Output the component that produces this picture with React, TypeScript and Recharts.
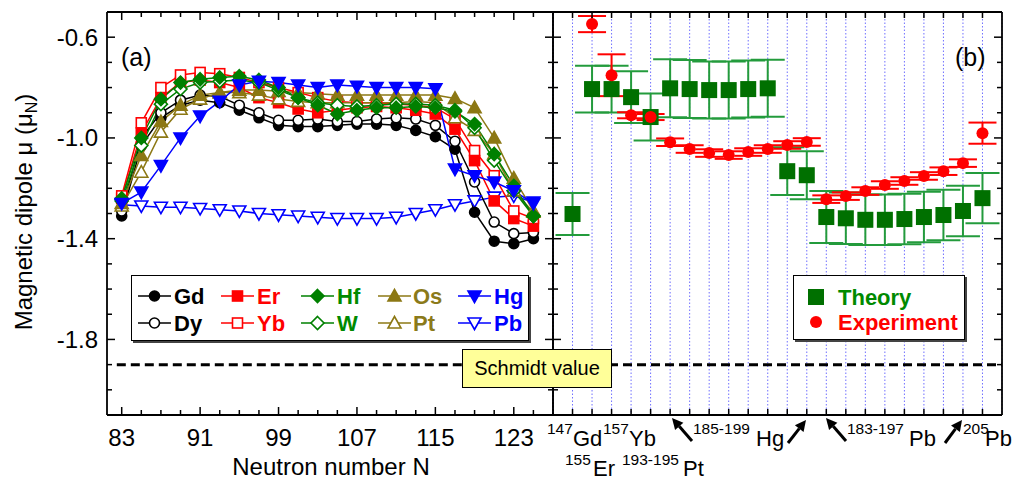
import React from "react";
import {
  LineChart,
  Line,
  XAxis,
  YAxis,
  ReferenceLine,
  ComposedChart,
  Scatter,
  ErrorBar,
  CartesianGrid,
} from "recharts";

const FONT = "'Liberation Sans', Arial, Helvetica, sans-serif";

// ---- panel (a): magnetic moments vs neutron number ----
const neutrons = [83, 85, 87, 89, 91, 93, 95, 97, 99, 101, 103, 105, 107, 109, 111, 113, 115, 117, 119, 121, 123, 125];

const gd = [-1.31, -1.03, -0.92, -0.87, -0.85, -0.86, -0.89, -0.92, -0.95, -0.955, -0.955, -0.95, -0.945, -0.945, -0.95, -0.97, -0.995, -1.045, -1.295, -1.41, -1.42, -1.4];
const dy = [-1.29, -1.0, -0.9, -0.85, -0.83, -0.835, -0.87, -0.9, -0.93, -0.93, -0.925, -0.935, -0.935, -0.925, -0.92, -0.925, -0.95, -1.013, -1.175, -1.334, -1.38, -1.375];
const er = [-1.24, -0.98, -0.84, -0.78, -0.77, -0.78, -0.8, -0.84, -0.86, -0.885, -0.9, -0.89, -0.88, -0.875, -0.88, -0.89, -0.905, -0.965, -1.09, -1.25, -1.32, -1.35];
const yb = [-1.23, -0.94, -0.8, -0.75, -0.74, -0.745, -0.76, -0.78, -0.8, -0.82, -0.84, -0.855, -0.86, -0.86, -0.865, -0.87, -0.88, -0.925, -1.05, -1.15, -1.29, -1.32];
const hf = [-1.24, -1.0, -0.846, -0.78, -0.767, -0.76, -0.755, -0.77, -0.8, -0.84, -0.87, -0.905, -0.89, -0.88, -0.88, -0.875, -0.88, -0.895, -0.945, -1.064, -1.19, -1.31];
const w = [-1.25, -1.03, -0.866, -0.806, -0.78, -0.775, -0.77, -0.78, -0.81, -0.84, -0.86, -0.87, -0.875, -0.87, -0.865, -0.865, -0.87, -0.89, -0.96, -1.09, -1.21, -1.31];
const os = [-1.26, -1.07, -0.935, -0.87, -0.83, -0.82, -0.81, -0.81, -0.815, -0.82, -0.825, -0.83, -0.83, -0.83, -0.83, -0.83, -0.83, -0.843, -0.88, -1.0, -1.16, -1.29];
const pt = [-1.27, -1.136, -0.977, -0.886, -0.846, -0.82, -0.82, -0.83, -0.845, -0.855, -0.86, -0.86, -0.86, -0.86, -0.86, -0.855, -0.86, -0.92, -0.97, -1.064, -1.21, -1.295];
const hg = [-1.26, -1.215, -1.11, -1.0, -0.913, -0.855, -0.79, -0.775, -0.78, -0.79, -0.8, -0.79, -0.795, -0.8, -0.8, -0.8, -0.805, -1.124, -1.15, -1.175, -1.21, -1.26];
const pb = [-1.265, -1.27, -1.275, -1.275, -1.28, -1.285, -1.29, -1.3, -1.305, -1.31, -1.315, -1.32, -1.32, -1.32, -1.315, -1.3, -1.285, -1.265, -1.25, -1.235, -1.23, -1.255];

const schmidt = -1.9;

const xTicksA = [83, 85, 87, 89, 91, 93, 95, 97, 99, 101, 103, 105, 107, 109, 111, 113, 115, 117, 119, 121, 123, 125];
const xLabelsA = [83, 91, 99, 107, 115, 123];
const yTicks = [-2.0, -1.9, -1.8, -1.7, -1.6, -1.5, -1.4, -1.3, -1.2, -1.1, -1.0, -0.9, -0.8, -0.7, -0.6];
const yLabels = [-1.8, -1.4, -1.0, -0.6];

// ---- panel (b): theory vs experiment per nucleus ----
const sites = [1, 2, 3, 4, 5, 6, 7, 8, 9, 10, 11, 12, 13, 14, 15, 16, 17, 18, 19, 20, 21, 22];
const theoryVal = [-1.302, -0.806, -0.806, -0.838, -0.917, -0.803, -0.806, -0.81, -0.81, -0.806, -0.803, -1.132, -1.148, -1.314, -1.319, -1.325, -1.325, -1.322, -1.314, -1.306, -1.29, -1.239];
const theoryErr = [0.083, 0.093, 0.093, 0.103, 0.093, 0.115, 0.115, 0.113, 0.113, 0.113, 0.113, 0.095, 0.095, 0.103, 0.102, 0.1, 0.1, 0.1, 0.1, 0.1, 0.1, 0.1];
const expSites = [2, 3, 4, 5, 6, 7, 8, 9, 10, 11, 12, 13, 14, 15, 16, 17, 18, 19, 20, 21, 22];
const expVal = [-0.548, -0.751, -0.91, -0.917, -1.017, -1.044, -1.06, -1.068, -1.056, -1.044, -1.028, -1.016, -1.243, -1.231, -1.211, -1.187, -1.171, -1.151, -1.132, -1.1, -0.981];
const expErr = [0.032, 0.083, 0.012, 0.012, 0.015, 0.015, 0.015, 0.015, 0.015, 0.015, 0.015, 0.015, 0.015, 0.015, 0.015, 0.015, 0.015, 0.015, 0.015, 0.015, 0.042];

const RED = "#ff0000";
const GREEN = "#008000";
const OLIVE = "#8c7814";
const BLUE = "#0000ff";

type Shape = "circle" | "square" | "diamond" | "up" | "down";

const series: { key: string; color: string; shape: Shape; open: boolean; values: number[] }[] = [
  { key: "Pb", color: BLUE, shape: "down", open: true, values: pb },
  { key: "Gd", color: "#000", shape: "circle", open: false, values: gd },
  { key: "Dy", color: "#000", shape: "circle", open: true, values: dy },
  { key: "Er", color: RED, shape: "square", open: false, values: er },
  { key: "Yb", color: RED, shape: "square", open: true, values: yb },
  { key: "Pt", color: OLIVE, shape: "up", open: true, values: pt },
  { key: "Os", color: OLIVE, shape: "up", open: false, values: os },
  { key: "W", color: GREEN, shape: "diamond", open: true, values: w },
  { key: "Hf", color: GREEN, shape: "diamond", open: false, values: hf },
  { key: "Hg", color: BLUE, shape: "down", open: false, values: hg },
];

const rowsA = neutrons.map((N, k) => {
  const row: Record<string, number> = { N };
  series.forEach((s) => (row[s.key] = s.values[k]));
  return row;
});

const theoryRows = sites.map((i, k) => ({ i, v: theoryVal[k], e: theoryErr[k] }));
const expRows = expSites.map((i, k) => ({ i, v: expVal[k], e: expErr[k] }));

function Marker({ cx, cy, shape, color, open }: { cx: number; cy: number; shape: Shape; color: string; open: boolean }) {
  const fill = open ? "#fff" : color;
  const common = { fill, stroke: color, strokeWidth: 1.6 };
  if (shape === "circle") return <circle cx={cx} cy={cy} r={5} {...common} />;
  if (shape === "square") return <rect x={cx - 5} y={cy - 5} width={10} height={10} {...common} />;
  if (shape === "diamond")
    return <polygon points={`${cx},${cy - 6.5} ${cx + 6.5},${cy} ${cx},${cy + 6.5} ${cx - 6.5},${cy}`} {...common} />;
  if (shape === "up")
    return <polygon points={`${cx},${cy - 6.5} ${cx + 6.5},${cy + 5} ${cx - 6.5},${cy + 5}`} {...common} />;
  return <polygon points={`${cx - 6.5},${cy - 5} ${cx + 6.5},${cy - 5} ${cx},${cy + 6.5}`} {...common} />;
}

const isYMajor = (v: number) => yLabels.some((t) => Math.abs(t - v) < 1e-6);

function LeftYTick({ x, y, payload }: any) {
  const major = isYMajor(payload.value);
  return (
    <g>
      <line x1={x} x2={x + (major ? 8 : 5)} y1={y} y2={y} stroke="#000" strokeWidth={1.5} />
      {major && (
        <text x={x - 9} y={y} dy="0.35em" textAnchor="end" fontSize={24} fontFamily={FONT} fill="#000">
          {payload.value.toFixed(1)}
        </text>
      )}
    </g>
  );
}

// ticks pointing left from a right-hand frame line
function RightYTick({ x, y, payload }: any) {
  const major = isYMajor(payload.value);
  return <line x1={x} x2={x - (major ? 8 : 5)} y1={y} y2={y} stroke="#000" strokeWidth={1.5} />;
}

function InnerLeftYTick({ x, y, payload }: any) {
  const major = isYMajor(payload.value);
  return <line x1={x} x2={x + (major ? 8 : 5)} y1={y} y2={y} stroke="#000" strokeWidth={1.5} />;
}

function BottomTickA({ x, y, payload }: any) {
  const major = xLabelsA.includes(payload.value);
  return (
    <g>
      <line x1={x} x2={x} y1={y} y2={y - (major ? 8 : 5)} stroke="#000" strokeWidth={1.5} />
      {major && (
        <text x={x} y={y + 31} textAnchor="middle" fontSize={24} fontFamily={FONT} fill="#000">
          {payload.value}
        </text>
      )}
    </g>
  );
}

function TopTickA({ x, y, payload }: any) {
  const major = xLabelsA.includes(payload.value);
  return <line x1={x} x2={x} y1={y} y2={y + (major ? 8 : 5)} stroke="#000" strokeWidth={1.5} />;
}

function BottomTickB({ x, y }: any) {
  return <line x1={x} x2={x} y1={y} y2={y - 6} stroke="#000" strokeWidth={1.5} />;
}

function TopTickB({ x, y }: any) {
  return <line x1={x} x2={x} y1={y} y2={y + 6} stroke="#000" strokeWidth={1.5} />;
}

function Arrow({ x1, y1, x2, y2 }: { x1: number; y1: number; x2: number; y2: number }) {
  const dx = x2 - x1;
  const dyv = y2 - y1;
  const len = Math.hypot(dx, dyv);
  const ux = dx / len;
  const uy = dyv / len;
  const hl = 11;
  const hw = 5.5;
  const bx = x2 - ux * hl;
  const by = y2 - uy * hl;
  return (
    <g>
      <line x1={x1} y1={y1} x2={bx} y2={by} stroke="#000" strokeWidth={3} />
      <polygon
        points={`${x2},${y2} ${bx - uy * hw},${by + ux * hw} ${bx + uy * hw},${by - ux * hw}`}
        fill="#000"
      />
    </g>
  );
}

const axisLine = { stroke: "#000", strokeWidth: 1.8 };

const legendCols = [
  { top: "Gd", bottom: "Dy", color: "#000", text: "#000", shape: "circle" as Shape, lx: 6, tx: 42 },
  { top: "Er", bottom: "Yb", color: RED, text: RED, shape: "square" as Shape, lx: 89, tx: 125 },
  { top: "Hf", bottom: "W", color: GREEN, text: "#008a00", shape: "diamond" as Shape, lx: 169, tx: 205 },
  { top: "Os", bottom: "Pt", color: OLIVE, text: "#8b7a1a", shape: "up" as Shape, lx: 246, tx: 281 },
  { top: "Hg", bottom: "Pb", color: BLUE, text: BLUE, shape: "down" as Shape, lx: 326, tx: 362 },
];

export default function App() {
  const W = 1019;
  const H = 481;
  return (
    <div style={{ position: "absolute", left: 0, top: 0, width: W, height: H, background: "#fff", fontFamily: FONT }}>
      <div style={{ position: "absolute", left: 0, top: 0 }}>
        <LineChart width={W} height={H} data={rowsA} margin={{ top: 11, right: 465, bottom: 0, left: 0 }}>
          <XAxis
            xAxisId="b"
            dataKey="N"
            type="number"
            domain={[81.5, 127]}
            allowDataOverflow
            ticks={xTicksA}
            interval={0}
            height={66}
            tickSize={0}
            tickMargin={0}
            tickLine={false}
            axisLine={axisLine}
            tick={<BottomTickA />}
          />
          <XAxis
            xAxisId="t"
            orientation="top"
            dataKey="N"
            type="number"
            domain={[81.5, 127]}
            allowDataOverflow
            ticks={xTicksA}
            interval={0}
            height={1}
            tickSize={0}
            tickMargin={0}
            tickLine={false}
            axisLine={axisLine}
            tick={<TopTickA />}
          />
          <YAxis
            yAxisId="l"
            type="number"
            domain={[-2.1, -0.5]}
            allowDataOverflow
            ticks={yTicks}
            interval={0}
            width={107}
            tickSize={0}
            tickMargin={0}
            tickLine={false}
            axisLine={axisLine}
            tick={<LeftYTick />}
          />
          <YAxis
            yAxisId="r"
            orientation="right"
            type="number"
            domain={[-2.1, -0.5]}
            allowDataOverflow
            ticks={yTicks}
            interval={0}
            width={1}
            tickSize={0}
            tickMargin={0}
            tickLine={false}
            axisLine={axisLine}
            tick={<RightYTick />}
          />
          <ReferenceLine
            xAxisId="b"
            yAxisId="l"
            segment={[
              { x: 82.5, y: schmidt },
              { x: 127, y: schmidt },
            ]}
            stroke="#000"
            strokeWidth={3}
            strokeDasharray="9 5"
          />
          {series.map((s) => (
            <Line
              key={s.key}
              xAxisId="b"
              yAxisId="l"
              dataKey={s.key}
              stroke={s.color}
              strokeWidth={1.5}
              isAnimationActive={false}
              activeDot={false}
              dot={(p: any) => (
                <Marker key={`${s.key}-${p.index}`} cx={p.cx} cy={p.cy} shape={s.shape} color={s.color} open={s.open} />
              )}
            />
          ))}
        </LineChart>
      </div>

      <div style={{ position: "absolute", left: 0, top: 0 }}>
        <ComposedChart width={W} height={H} margin={{ top: 11, right: 16, bottom: 0, left: 552 }}>
          <CartesianGrid xAxisId="b" yAxisId="l" horizontal={false} stroke="#6f6fff" strokeDasharray="1.5 2" strokeWidth={1} />
          <XAxis
            xAxisId="b"
            dataKey="i"
            type="number"
            domain={[0, 23]}
            allowDataOverflow
            ticks={sites}
            interval={0}
            height={66}
            tickSize={0}
            tickMargin={0}
            tickLine={false}
            axisLine={axisLine}
            tick={<BottomTickB />}
          />
          <XAxis
            xAxisId="t"
            orientation="top"
            dataKey="i"
            type="number"
            domain={[0, 23]}
            allowDataOverflow
            ticks={sites}
            interval={0}
            height={1}
            tickSize={0}
            tickMargin={0}
            tickLine={false}
            axisLine={axisLine}
            tick={<TopTickB />}
          />
          <YAxis
            yAxisId="l"
            dataKey="v"
            type="number"
            domain={[-2.1, -0.5]}
            allowDataOverflow
            ticks={yTicks}
            interval={0}
            width={1}
            tickSize={0}
            tickMargin={0}
            tickLine={false}
            axisLine={axisLine}
            tick={<InnerLeftYTick />}
          />
          <YAxis
            yAxisId="r"
            orientation="right"
            dataKey="v"
            type="number"
            domain={[-2.1, -0.5]}
            allowDataOverflow
            ticks={yTicks}
            interval={0}
            width={1}
            tickSize={0}
            tickMargin={0}
            tickLine={false}
            axisLine={axisLine}
            tick={<RightYTick />}
          />
          <ReferenceLine xAxisId="b" yAxisId="l" y={schmidt} stroke="#000" strokeWidth={3} strokeDasharray="9 5" />
          <Scatter
            name="Theory"
            xAxisId="b"
            yAxisId="l"
            data={theoryRows}
            dataKey="v"
            isAnimationActive={false}
            shape={(p: any) => <rect x={p.cx - 8} y={p.cy - 8} width={16} height={16} fill="#007000" />}
          >
            <ErrorBar dataKey="e" direction="y" width={17} stroke="#239b3c" strokeWidth={2} />
          </Scatter>
          <Scatter
            name="Experiment"
            xAxisId="b"
            yAxisId="l"
            data={expRows}
            dataKey="v"
            isAnimationActive={false}
            shape={(p: any) => <circle cx={p.cx} cy={p.cy} r={6} fill={RED} />}
          >
            <ErrorBar dataKey="e" direction="y" width={14} stroke={RED} strokeWidth={2} />
          </Scatter>
        </ComposedChart>
      </div>

      <svg width={W} height={H} style={{ position: "absolute", left: 0, top: 0, pointerEvents: "none" }} fontFamily={FONT}>
        <text transform="translate(32,212) rotate(-90)" textAnchor="middle" fontSize={24} fill="#000">
          Magnetic dipole μ (μ
          <tspan dy={5} fontSize={16}>
            N
          </tspan>
          <tspan dy={-5}>)</tspan>
        </text>
        <text x={331} y={475} textAnchor="middle" fontSize={24} fill="#000">
          Neutron number N
        </text>
        <text x={121} y={66} fontSize={25} fill="#000">
          (a)
        </text>
        <text x={955} y={66} fontSize={25} fill="#000">
          (b)
        </text>

        <g fontSize={22} fill="#000">
          <text x={547} y={434} fontSize={15.5}>147</text>
          <text x={573} y={446}>Gd</text>
          <text x={603} y={434} fontSize={15.5}>157</text>
          <text x={629} y={446}>Yb</text>
          <text x={693} y={434} fontSize={15.5}>185-199</text>
          <text x={756} y={446}>Hg</text>
          <text x={847} y={434} fontSize={15.5}>183-197</text>
          <text x={909} y={446}>Pb</text>
          <text x={963} y={434} fontSize={15.5}>205</text>
          <text x={985} y={446}>Pb</text>
          <text x={565} y={465} fontSize={15.5}>155</text>
          <text x={593} y={476}>Er</text>
          <text x={622} y={465} fontSize={15.5}>193-195</text>
          <text x={683} y={476}>Pt</text>
        </g>
        <Arrow x1={692} y1={441} x2={672} y2={418} />
        <Arrow x1={788} y1={443} x2={806} y2={420} />
        <Arrow x1={846} y1={441} x2={826} y2={418} />
        <Arrow x1={945} y1={443} x2={962} y2={420} />
      </svg>

      <div
        style={{
          position: "absolute",
          left: 131,
          top: 275,
          width: 396,
          height: 64,
          border: "1.5px solid #000",
          background: "#fff",
          boxShadow: "2px 2px 0 #444",
        }}
      >
        <svg width={396} height={64} fontFamily={FONT} fontWeight="bold" fontSize={22}>
          {legendCols.map((c) => (
            <g key={c.top}>
              <line x1={c.lx} x2={c.lx + 33} y1={20} y2={20} stroke={c.color} strokeWidth={1.5} />
              <Marker cx={c.lx + 16.5} cy={20} shape={c.shape} color={c.color} open={false} />
              <text x={c.tx} y={28} fill={c.text}>
                {c.top}
              </text>
              <line x1={c.lx} x2={c.lx + 33} y1={47} y2={47} stroke={c.color} strokeWidth={1.5} />
              <Marker cx={c.lx + 16.5} cy={47} shape={c.shape} color={c.color} open={true} />
              <text x={c.tx} y={55} fill={c.text}>
                {c.bottom}
              </text>
            </g>
          ))}
        </svg>
      </div>

      <div
        style={{
          position: "absolute",
          left: 793,
          top: 275,
          width: 170,
          height: 63,
          border: "1.5px solid #000",
          background: "#fff",
          boxShadow: "2px 2px 0 #444",
        }}
      >
        <svg width={170} height={63} fontFamily={FONT} fontWeight="bold" fontSize={22}>
          <rect x={14} y={13} width={16} height={16} fill="#007000" />
          <text x={44} y={29} fill="#008a00">
            Theory
          </text>
          <circle cx={22} cy={46} r={6} fill={RED} />
          <text x={44} y={54} fill={RED}>
            Experiment
          </text>
        </svg>
      </div>

      <div
        style={{
          position: "absolute",
          left: 462,
          top: 349,
          width: 148,
          height: 37,
          border: "1.5px solid #000",
          background: "#ffff99",
          fontSize: 20,
          lineHeight: "37px",
          textAlign: "center",
          color: "#000",
        }}
      >
        Schmidt value
      </div>
    </div>
  );
}
